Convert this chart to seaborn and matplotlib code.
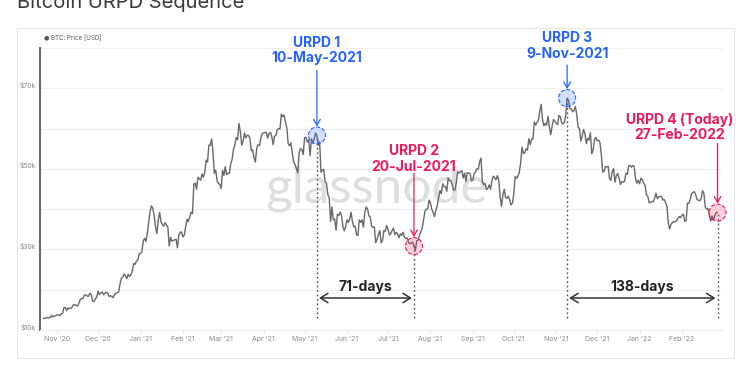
import numpy as np
import pandas as pd
import matplotlib
matplotlib.use("Agg")
import matplotlib.pyplot as plt
import matplotlib.dates as mdates
import matplotlib.transforms as mtransforms
from matplotlib.patches import Rectangle
import seaborn as sns

# ---------------- data (daily BTC price, USD) ----------------
START_DATE = "2020-10-22"
price_2020_10 = [12820, 12970, 12930, 13110, 13030, 13070, 13640, 13270, 13460, 13560]
price_2020_11 = [13780, 13740, 13550, 14030, 14130, 15580, 15570, 14830, 15480, 15330,
                 15300, 15700, 16280, 16320, 16070, 15960, 16720, 17650, 17800, 17820,
                 18680, 18700, 18420, 18370, 19160, 18720, 17150, 17140, 17720, 18180]
price_2020_12 = [19630, 18800, 19200, 19450, 18700, 19150, 19360, 19170, 18320, 18550,
                 18260, 18050, 18800, 19140, 19250, 19440, 21380, 22800, 23130, 23870,
                 23480, 22750, 23820, 23240, 23730, 24710, 26490, 26280, 27080, 27360, 28840]
price_2021_01 = [29000, 29370, 32130, 32780, 31970, 33990, 36820, 39370, 40800, 40250,
                 38350, 35540, 33920, 37320, 39190, 36830, 36180, 35790, 36630, 36070,
                 35550, 30830, 33000, 32080, 32260, 32370, 32560, 30430, 33470, 34320, 34280]
price_2021_02 = [33110, 33540, 35510, 37470, 36930, 38140, 39270, 38900, 46200, 46480,
                 44920, 47910, 47500, 47170, 48720, 47940, 49200, 52150, 51680, 55890,
                 55840, 57410, 54090, 48890, 49680, 47070, 46340, 46190]
price_2021_03 = [45140, 49630, 48380, 50540, 48560, 48930, 48910, 51210, 52380, 54880,
                 55960, 57750, 57230, 61260, 59300, 55880, 56770, 58910, 57670, 58340,
                 58310, 57520, 54530, 54740, 52770, 51700, 55140, 55950, 55780, 57630, 58730]
price_2021_04 = [58920, 59000, 59100, 57600, 58760, 59060, 58020, 56000, 58090, 58300,
                 59770, 60000, 59860, 63580, 62970, 63350, 61530, 60200, 56250, 55720,
                 56470, 53900, 51760, 51090, 50050, 49000, 54020, 55030, 54820, 53550]
price_2021_05 = [57750, 57830, 56630, 57200, 53240, 57470, 56430, 57380, 58890, 58280,
                 55860, 56700, 49150, 49720, 49880, 46760, 46430, 43540, 42910, 36960,
                 40550, 37300, 37540, 34770, 38710, 38400, 39290, 38440, 35690, 34650, 35680]
price_2021_06 = [37340, 36690, 37580, 39190, 36870, 35560, 35800, 33590, 33470, 37350,
                 36700, 37340, 35550, 39100, 40520, 40140, 38350, 38090, 35820, 35480,
                 35600, 31680, 32500, 33680, 34660, 31590, 32280, 34700, 34500, 35910]
price_2021_07 = [35040, 33570, 33900, 34690, 35290, 33690, 34230, 33860, 32880, 33820,
                 33520, 34260, 33090, 32730, 32820, 31780, 31420, 31530, 31800, 30820,
                 29810, 32110, 32310, 33580, 34290, 35380, 37280, 39460, 40000, 40030, 42240]
price_2021_08 = [41630, 39970, 39200, 38150, 39750, 40870, 42840, 44630, 43830, 46290,
                 45600, 45590, 44430, 47790, 47100, 47050, 46000, 44700, 44800, 46720,
                 49340, 48910, 49320, 49550, 47710, 48990, 46850, 49080, 48900, 48830, 47050]
price_2021_09 = [47170, 48850, 49290, 50030, 49940, 51770, 52660, 46860, 46090, 46400,
                 44850, 45160, 46020, 44940, 47110, 48180, 47780, 47300, 48310, 47260,
                 43000, 40700, 43570, 44900, 42840, 42720, 43210, 42240, 41030, 41560]
price_2021_10 = [43790, 48120, 47710, 48200, 49110, 51510, 55360, 53810, 53970, 54970,
                 54660, 57490, 56010, 57370, 57350, 61670, 60880, 61530, 62010, 64280,
                 66000, 62210, 60690, 61290, 60860, 63080, 60330, 58470, 60620, 62230, 61890]
price_2021_11 = [61320, 61000, 63230, 62970, 61450, 61130, 61530, 63330, 67570, 66970,
                 64950, 64860, 64160, 64470, 65470, 63560, 60370, 60000, 56880, 58120,
                 59770, 58730, 56290, 57570, 57140, 58960, 53730, 54720, 57270, 57810]
price_2021_12 = [56950, 57180, 56480, 53600, 49200, 49370, 50580, 50470, 50640, 47590,
                 47140, 49390, 50050, 46700, 48340, 48860, 47630, 46130, 46830, 46680,
                 46880, 48940, 48630, 50780, 50820, 50430, 50810, 50640, 47590, 46440, 47180]
price_2022_01 = [46310, 47690, 47310, 46460, 45900, 43570, 43150, 41560, 41730, 41910,
                 41820, 42740, 43950, 42590, 43100, 43180, 43110, 42250, 42380, 41690,
                 40680, 36460, 35080, 36280, 36650, 36950, 36850, 37140, 37710, 38170, 37920]
price_2022_02 = [38480, 38740, 36950, 37150, 41500, 41440, 42410, 43840, 44120, 44340,
                 43570, 42400, 42200, 42090, 42590, 44580, 43960, 40540, 40030, 40120,
                 38430, 37020, 38290, 37300, 38390, 39230, 39140]

urpd_labels = ["URPD 1\n10-May-2021", "URPD 2\n20-Jul-2021",
               "URPD 3\n9-Nov-2021", "URPD 4 (Today)\n27-Feb-2022"]
urpd_dates = ["2021-05-10", "2021-07-20", "2021-11-09", "2022-02-27"]
urpd_kind = ["top", "bottom", "top", "bottom"]

span_labels = ["71-days", "138-days"]
span_from = ["2021-05-10", "2021-11-09"]
span_to = ["2021-07-20", "2022-02-27"]

x_tick_months = ["2020-11-01", "2020-12-01", "2021-01-01", "2021-02-01", "2021-03-01",
                 "2021-04-01", "2021-05-01", "2021-06-01", "2021-07-01", "2021-08-01",
                 "2021-09-01", "2021-10-01", "2021-11-01", "2021-12-01", "2022-01-01",
                 "2022-02-01"]
y_ticks = [10000, 20000, 30000, 40000, 50000, 60000, 70000, 80000]
y_tick_labels = ["$10k", "", "$30k", "", "$50k", "", "$70k", ""]

title_text = "Bitcoin URPD Sequence"
legend_text = "BTC: Price [USD]"
watermark_text = "glassnode"

# ---------------- build frame ----------------
prices = (price_2020_10 + price_2020_11 + price_2020_12 + price_2021_01 + price_2021_02 +
          price_2021_03 + price_2021_04 + price_2021_05 + price_2021_06 + price_2021_07 +
          price_2021_08 + price_2021_09 + price_2021_10 + price_2021_11 + price_2021_12 +
          price_2022_01 + price_2022_02)
dates = pd.date_range(START_DATE, periods=len(prices), freq="D")
df = pd.DataFrame({"date": dates, "price": prices})
price_at = dict(zip(df["date"], df["price"]))

# ---------------- style ----------------
sns.set_theme(style="white")
plt.rcParams["font.family"] = ["Inter", "DejaVu Sans"]

BLUE = "#2563ff"
PINK = "#f2185c"
kind_color = {"top": BLUE, "bottom": PINK}

W, H = 750, 375
fig = plt.figure(figsize=(7.5, 3.75), dpi=100)
fig.patch.set_facecolor("white")

# card
card = Rectangle((17 / W, 1 - 358 / H), 717 / W, 330 / H, transform=fig.transFigure,
                 facecolor="white", edgecolor="#e6e6e6", lw=0.8, zorder=-10)
fig.patches.append(card)

ax = fig.add_axes([40 / W, 1 - 330 / H, 682 / W, 282 / H])
ax.set_facecolor("none")
ax.set_zorder(5)

sns.lineplot(data=df, x="date", y="price", ax=ax, color="#686868", lw=1.0, zorder=3)

ax.set_xlim(pd.Timestamp("2020-10-19 12:00"), pd.Timestamp("2022-03-02 06:00"))
ax.set_ylim(y_ticks[0], y_ticks[-1])
ax.set_xlabel("")
ax.set_ylabel("")

ax.set_yticks(y_ticks)
ax.set_yticklabels(y_tick_labels, va="bottom")
ax.set_xticks(mdates.date2num(pd.to_datetime(x_tick_months)))
ax.xaxis.set_major_formatter(mdates.DateFormatter("%b '%y"))
ax.tick_params(axis="y", length=0, pad=3, labelsize=5, labelcolor="#8a8a8a")
ax.tick_params(axis="x", length=2, width=0.6, color="#dddddd", pad=2,
               labelsize=5, labelcolor="#8a8a8a", bottom=True)
ax.yaxis.grid(True, color="#efefef", lw=0.8)
ax.xaxis.grid(False)
for s in ["top", "right"]:
    ax.spines[s].set_visible(False)
ax.spines["bottom"].set_color("#eeeeee")
ax.spines["bottom"].set_linewidth(0.8)
ax.spines["left"].set_color("#6b6b6b")
ax.spines["left"].set_linewidth(1.5)

# watermark
ax.text(0.493, 0.5, watermark_text, transform=ax.transAxes, ha="center", va="center",
        fontsize=37, color="#dedede", zorder=1, family=["Lato", "DejaVu Sans"])

ylo, yhi = y_ticks[0], y_ticks[-1]
text_offsets = [(0, 85), (0, 87), (0, 52), (-38, 85)]
arrow_starts = [65, 73, 33, 69]

for lab, ds, kind, (tx, ty), a0 in zip(urpd_labels, urpd_dates, urpd_kind,
                                         text_offsets, arrow_starts):
    d = pd.Timestamp(ds)
    p = price_at[d]
    c = kind_color[kind]
    dn = mdates.date2num(d)
    # dotted drop line
    ax.axvline(dn, ymin=0.043, ymax=(p - ylo) / (yhi - ylo), color="#4a4a4a",
               ls=(0, (1.2, 2.0)), lw=1.0, zorder=2)
    # circle
    ax.scatter([dn], [p], s=150, facecolor=matplotlib.colors.to_rgba(c, 0.2),
               edgecolor=c, linestyle="--", lw=0.8, zorder=4, clip_on=False)
    # arrow
    ax.annotate("", xy=(dn, p), xytext=(0, a0), textcoords="offset pixels",
                arrowprops=dict(arrowstyle="->,head_length=0.35,head_width=0.2",
                                color=c, lw=0.9, shrinkA=0, shrinkB=6.5), zorder=5)
    # label
    ax.annotate(lab, xy=(dn, p), xytext=(tx, ty), textcoords="offset pixels",
                ha="center", va="center", fontsize=10, fontweight="bold", color=c,
                linespacing=1.15, zorder=6)

blend = mtransforms.blended_transform_factory(ax.transData, ax.transAxes)
for lab, d0s, d1s in zip(span_labels, span_from, span_to):
    d0 = mdates.date2num(pd.Timestamp(d0s))
    d1 = mdates.date2num(pd.Timestamp(d1s))
    ax.annotate("", xy=(d1, 0.1135), xytext=(d0, 0.1135),
                xycoords=blend, textcoords=blend,
                arrowprops=dict(arrowstyle="<->,head_length=0.45,head_width=0.28",
                                color="#333333", lw=1.1, shrinkA=1.5, shrinkB=1.5),
                zorder=5)
    ax.text((d0 + d1) / 2, 0.1525, lab, transform=blend, ha="center", va="center",
            fontsize=10, fontweight="bold", color="#222222", zorder=6)

# legend
fig.text(46 / W, 1 - 37.5 / H, "●", fontsize=4.5, color="#555555", ha="center",
         va="center", family=["DejaVu Sans"])
fig.text(51 / W, 1 - 37.5 / H, legend_text, fontsize=4.5, color="#555555",
         ha="left", va="center")

# title (partially cropped at top like the reference)
fig.text(17 / W, 1 - 7.5 / H, title_text, fontsize=14.5, color="#3a3a3a",
         ha="left", va="baseline")

fig.savefig("out.png", dpi=100)
